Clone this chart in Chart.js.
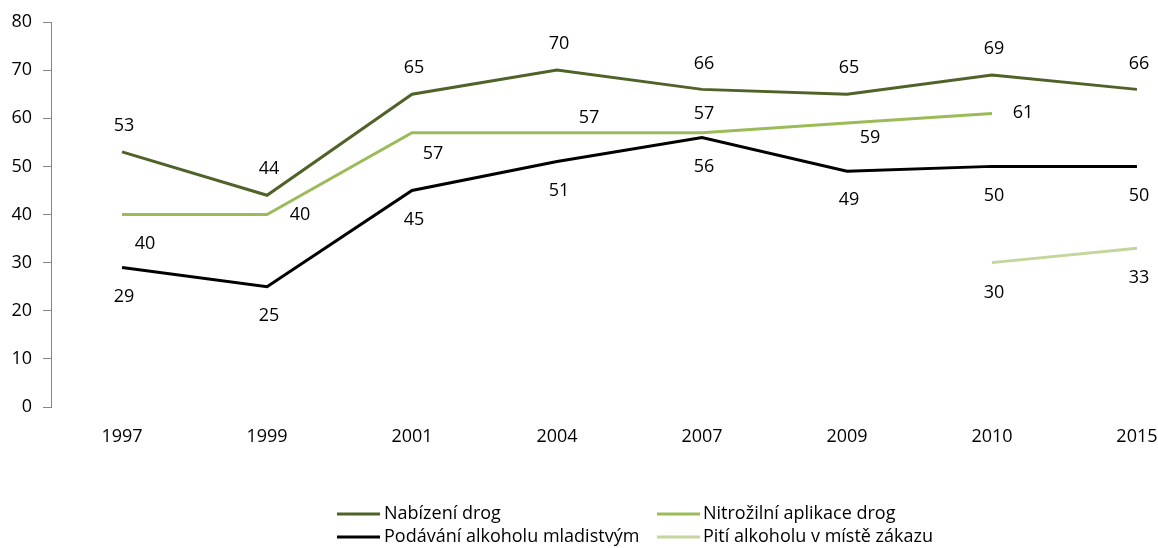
<!DOCTYPE html>
<html><head><meta charset="utf-8">
<script src="https://cdn.jsdelivr.net/npm/chart.js@4"></script>
<style>html,body{margin:0;padding:0;background:#fff;overflow:hidden}#wrap{width:1158px;height:548px;position:relative}</style>
</head><body><div id="wrap"><canvas id="c" width="1158" height="548"></canvas></div>
<script>
// ---- data ----
const years = ['1997','1999','2001','2004','2007','2009','2010','2015'];
const nabizeniDrog = [53,44,65,70,66,65,69,66];
const nitrozilniAplikace = [40,40,57,57,57,59,61,null];
const podavaniAlkoholu = [29,25,45,51,56,49,50,50];
const pitiAlkoholu = [null,null,null,null,null,null,30,33];
const seriesNames = ['Nabízení drog','Nitrožilní aplikace drog','Podávání alkoholu mladistvým','Pití alkoholu v místě zákazu'];
const yMin = 0, yMax = 80, yStep = 10;

// ---- style ----
const FONT = '"Open Sans", "Noto Sans", sans-serif';
const FS = 18;
const colors = ['#4F6228','#9BBB59','#000000','#C3D69B'];
// label offsets (px) per series / point
const labelOffsets = [
  years.map(()=>[2,-26]),
  [[23,29],[33,0],[21,21],[32,-15],[2,-19],[23,15],[31,-1],[0,0]],
  years.map(()=>[2,29]),
  years.map(()=>[2,30])
];

const toPts = arr => arr.map((v,i)=>({x:i, y:v}));
const seriesData = [nabizeniDrog, nitrozilniAplikace, podavaniAlkoholu, pitiAlkoholu];

const labelPlugin = {
  id:'valueLabels',
  afterDatasetsDraw(chart){
    const ctx = chart.ctx;
    ctx.save();
    ctx.font = FS + 'px ' + FONT;
    ctx.fillStyle = '#000';
    ctx.textAlign = 'center';
    ctx.textBaseline = 'middle';
    chart.data.datasets.forEach((ds, di)=>{
      const meta = chart.getDatasetMeta(di);
      meta.data.forEach((el, i)=>{
        const v = seriesData[di][i];
        if (v === null || v === undefined) return;
        const off = labelOffsets[di][i];
        ctx.fillText(String(v), el.x + off[0], el.y + off[1]);
      });
    });
    ctx.restore();
  }
};

const legendPlugin = {
  id:'gridLegend',
  afterDraw(chart){
    const ctx = chart.ctx;
    const cols = [{x1:337,x2:380,tx:384},{x1:657,x2:700,tx:703}];
    const rows = [514, 537];
    ctx.save();
    ctx.font = FS + 'px ' + FONT;
    ctx.textAlign = 'left';
    ctx.textBaseline = 'middle';
    seriesNames.forEach((name, i)=>{
      const c = cols[i%2], y = rows[Math.floor(i/2)];
      ctx.strokeStyle = colors[i];
      ctx.lineWidth = 3;
      ctx.beginPath(); ctx.moveTo(c.x1, y); ctx.lineTo(c.x2, y); ctx.stroke();
      ctx.fillStyle = '#000';
      ctx.fillText(name, c.tx, y);
    });
    ctx.restore();
  }
};

new Chart(document.getElementById('c'), {
  type:'line',
  data:{
    datasets: seriesNames.map((n,i)=>({
      label:n, data: toPts(seriesData[i]),
      borderColor: colors[i], backgroundColor: colors[i],
      borderWidth: 3, pointRadius: 0, tension: 0, spanGaps: false, fill:false
    }))
  },
  options:{
    responsive:false, animation:false, devicePixelRatio:1,
    layout:{padding:{top:22,right:8,bottom:91,left:0}},
    plugins:{legend:{display:false}, tooltip:{enabled:false}},
    scales:{
      x:{
        type:'linear', min:-0.49, max:7.09,
        border:{display:false},
        grid:{display:false, drawTicks:false, tickLength:0},
        ticks:{stepSize:1, includeBounds:false, autoSkip:false, maxRotation:0, padding:19,
          color:'#000', font:{family:FONT, size:FS},
          callback:(v)=> Number.isInteger(v) && years[v] ? years[v] : ''},
        afterFit(s){ s.height = 50; s.paddingLeft = 0; s.paddingRight = 0; }
      },
      y:{
        min:yMin, max:yMax,
        border:{display:true, color:'#868686', width:1},
        grid:{drawOnChartArea:false, drawTicks:true, tickLength:8, color:'#868686'},
        ticks:{stepSize:yStep, padding:11, color:'#000', font:{family:FONT, size:FS}},
        afterFit(s){ s.width = 51; s.paddingTop = 0; s.paddingBottom = 0; }
      }
    }
  },
  plugins:[labelPlugin, legendPlugin]
});
</script>
</body></html>
